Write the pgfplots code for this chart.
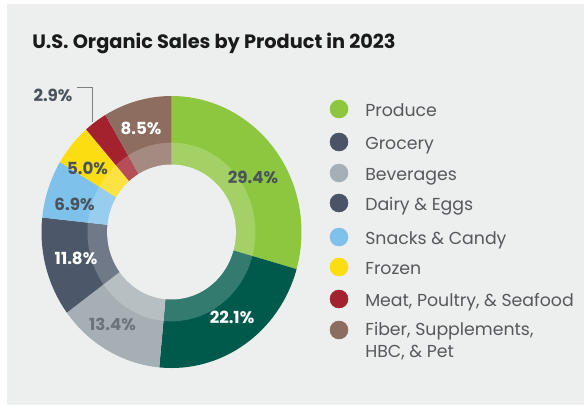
\documentclass[border=0pt]{standalone}
\usepackage{fontspec}
\setmainfont{Poppins}
\usepackage{pgfplots}
\usepackage{pgfplotstable}
\pgfplotsset{compat=1.18}

\definecolor{cardbg}{HTML}{ECEFEE}
\definecolor{produce}{HTML}{8DC63F}
\definecolor{grocery}{HTML}{005A4C}
\definecolor{beverages}{HTML}{A6AFB3}
\definecolor{dairy}{HTML}{4C5869}
\definecolor{snacks}{HTML}{7EC1EA}
\definecolor{frozen}{HTML}{FCDD12}
\definecolor{meat}{HTML}{A3222E}
\definecolor{fiber}{HTML}{8E6D61}
\definecolor{legslate}{HTML}{4A5466}
\definecolor{labeldark}{HTML}{4A535C}
\definecolor{labelgray}{HTML}{6B747A}
\definecolor{legtext}{HTML}{55595C}
\definecolor{titletext}{HTML}{1A1A1A}

% share of organic sales, %, clockwise from 12 o'clock
\pgfplotstableread{
key value col
produce 29.4 produce
grocery 22.1 grocery
beverages 13.4 beverages
dairy 11.8 dairy
snacks 6.9 snacks
frozen 5.0 frozen
meat 2.9 meat
fiber 8.5 fiber
}\salesdata

\begin{document}
\begin{tikzpicture}
\begin{axis}[
  x=0.75pt, y=0.75pt,
  xmin=0, xmax=584, ymin=0, ymax=405,
  y dir=reverse,
  hide axis, clip=false,
]
  % background card
  \fill[white] (axis cs:0,0) rectangle (axis cs:584,405);
  \fill[cardbg] (axis cs:7,4) rectangle (axis cs:584,405);

  % donut slices
  \pgfplotstablegetrowsof{\salesdata}
  \pgfmathtruncatemacro\lastrow{\pgfplotsretval-1}
  \gdef\angA{90}
  \pgfplotsforeachungrouped \i in {0,...,\lastrow}{%
    \pgfplotstablegetelem{\i}{value}\of\salesdata \let\val\pgfplotsretval
    \pgfplotstablegetelem{\i}{col}\of\salesdata \let\slicecol\pgfplotsretval
    \pgfmathsetmacro\angB{\angA-3.6*\val}
    \edef\temp{\noexpand\fill[\slicecol] (axis cs:171.5,232) -- ++(\angA:97.5pt and 102pt)
      arc[start angle=\angA, end angle=\angB, x radius=97.5pt, y radius=102pt] -- cycle;}
    \temp
    \global\let\angA\angB
  }
  % lighter inner band and the hole
  \fill[white, opacity=0.2] (axis cs:171.5,232) ellipse [x radius=63pt, y radius=67pt];
  \fill[cardbg] (axis cs:171.5,232) ellipse [x radius=48.3pt, y radius=50.6pt];

  % slice labels
  \begin{scope}[font=\bfseries\fontsize{12.5}{15}\selectfont]
    \node[text=labeldark] at (axis cs:253,177) {29.4\%};
    \node[text=white] at (axis cs:232,317) {22.1\%};
    \node[text=labelgray] at (axis cs:112.5,324) {13.4\%};
    \node[text=white] at (axis cs:76,258) {11.8\%};
    \node[text=labeldark] at (axis cs:74.5,204) {6.9\%};
    \node[text=labeldark] at (axis cs:87.5,168) {5.0\%};
    \node[text=labeldark] at (axis cs:53,95) {2.9\%};
    \node[text=white] at (axis cs:141,128) {8.5\%};
  \end{scope}
  \draw[gray, line width=0.75pt] (axis cs:77,87) -- (axis cs:92,87) -- (axis cs:92,122);

  % title
  \node[anchor=base west, inner sep=0pt, font=\bfseries\fontsize{14.5}{17}\selectfont, text=titletext]
    at (axis cs:32,48) {U.S. Organic Sales by Product in 2023};

  % legend
  \addplot[only marks, mark=*, mark size=6.75pt, produce] coordinates {(339,109)};
  \addplot[only marks, mark=*, mark size=6.75pt, legslate] coordinates {(339,142)};
  \addplot[only marks, mark=*, mark size=6.75pt, beverages] coordinates {(339,173)};
  \addplot[only marks, mark=*, mark size=6.75pt, legslate] coordinates {(339,203)};
  \addplot[only marks, mark=*, mark size=6.75pt, snacks] coordinates {(339,237)};
  \addplot[only marks, mark=*, mark size=6.75pt, frozen] coordinates {(339,267)};
  \addplot[only marks, mark=*, mark size=6.75pt, meat] coordinates {(339,299)};
  \addplot[only marks, mark=*, mark size=6.75pt, fiber] coordinates {(339,330)};
  \begin{scope}[font=\fontsize{13}{16}\selectfont, text=legtext, every node/.style={inner sep=0pt}]
    \node[anchor=base west] at (axis cs:365,116) {Produce};
    \node[anchor=base west] at (axis cs:365,149) {Grocery};
    \node[anchor=base west] at (axis cs:365,180) {Beverages};
    \node[anchor=base west] at (axis cs:365,210) {Dairy \& Eggs};
    \node[anchor=base west] at (axis cs:365,244) {Snacks \& Candy};
    \node[anchor=base west] at (axis cs:365,274) {Frozen};
    \node[anchor=base west] at (axis cs:365,306) {Meat, Poultry, \& Seafood};
    \node[anchor=base west] at (axis cs:365,335) {Fiber, Supplements,};
    \node[anchor=base west] at (axis cs:365,357) {HBC, \& Pet};
  \end{scope}
\end{axis}
\end{tikzpicture}
\end{document}
